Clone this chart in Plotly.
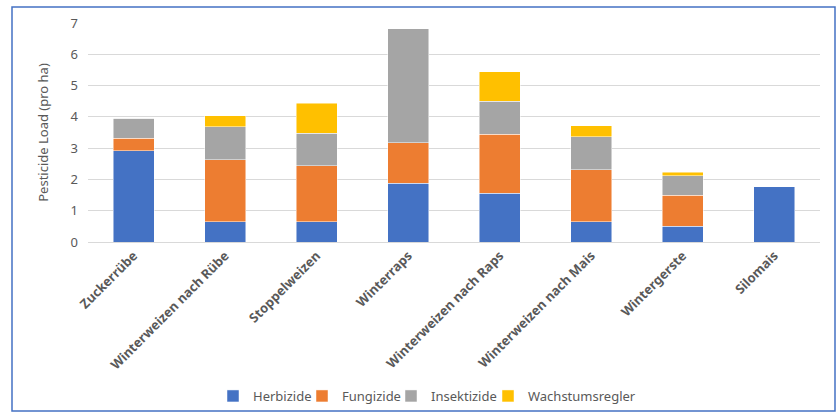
import plotly.graph_objects as go

categories = ["Zuckerrübe", "Winterweizen nach Rübe", "Stoppelweizen", "Winterraps",
              "Winterweizen nach Raps", "Winterweizen nach Mais", "Wintergerste", "Silomais"]
herbizide = [2.92, 0.65, 0.65, 1.88, 1.56, 0.64, 0.51, 1.76]
fungizide = [0.39, 1.98, 1.79, 1.30, 1.88, 1.67, 0.98, 0.0]
insektizide = [0.65, 1.06, 1.04, 3.64, 1.06, 1.06, 0.63, 0.0]
wachstumsregler = [0.0, 0.35, 0.96, 0.0, 0.94, 0.34, 0.11, 0.0]
y_ticks = [0, 1, 2, 3, 4, 5, 6, 7]

series = [("Herbizide", herbizide, "#4472C4"),
          ("Fungizide", fungizide, "#ED7D31"),
          ("Insektizide", insektizide, "#A5A5A5"),
          ("Wachstumsregler", wachstumsregler, "#FFC000")]

W, H = 838, 414
L, R, T, B = 88, 18, 23, 172

pw = W - L - R
ph = H - T - B
def px(x):
    return (x - L) / pw
def py(y):
    return (H - B - y) / ph

legend_ids = ["legend", "legend2", "legend3", "legend4"]
legend_marker_x = [233, 322, 411, 508]

fig = go.Figure()
for (name, vals, col), lid in zip(series, legend_ids):
    fig.add_trace(go.Bar(x=categories, y=vals, name=name, marker_color=col, legend=lid,
                         showlegend=True,
                         marker_line=dict(color="rgba(255,255,255,0.6)", width=0.8)))

fig.add_shape(type="rect", xref="paper", yref="paper",
              x0=px(12), x1=px(835), y0=py(7), y1=py(411),
              line=dict(color="#4472C4", width=1.5), fillcolor="rgba(0,0,0,0)", layer="below")

legend_cfg = {}
for lid, mx in zip(legend_ids, legend_marker_x):
    legend_cfg[lid] = dict(orientation="h", x=px(mx - 20), xanchor="left", y=py(396), yanchor="middle",
                           font=dict(size=13, color="#595959"), itemwidth=30,
                           bgcolor="rgba(0,0,0,0)")

fig.update_layout(
    width=W, height=H, barmode="stack", bargap=0.55, showlegend=True,
    margin=dict(l=L, r=R, t=T, b=B, autoexpand=False),
    paper_bgcolor="white", plot_bgcolor="white",
    font=dict(family="Noto Sans, sans-serif", color="#595959", size=13),
    xaxis=dict(tickangle=-45, tickfont=dict(size=13, color="#595959", family="Noto Sans, sans-serif", weight="bold"),
               showline=True, linecolor="#D9D9D9", ticks="", showgrid=False),
    yaxis=dict(range=[0, 7], tickvals=y_ticks, showgrid=True, gridcolor="#D9D9D9",
               zeroline=False, ticks="", ticklabelstandoff=9, tickfont=dict(size=13, color="#595959"),
               title=dict(text="Pesticide Load (pro ha)", font=dict(size=13, color="#595959"), standoff=19)),
    **legend_cfg,
)

fig.write_html("out.html")
